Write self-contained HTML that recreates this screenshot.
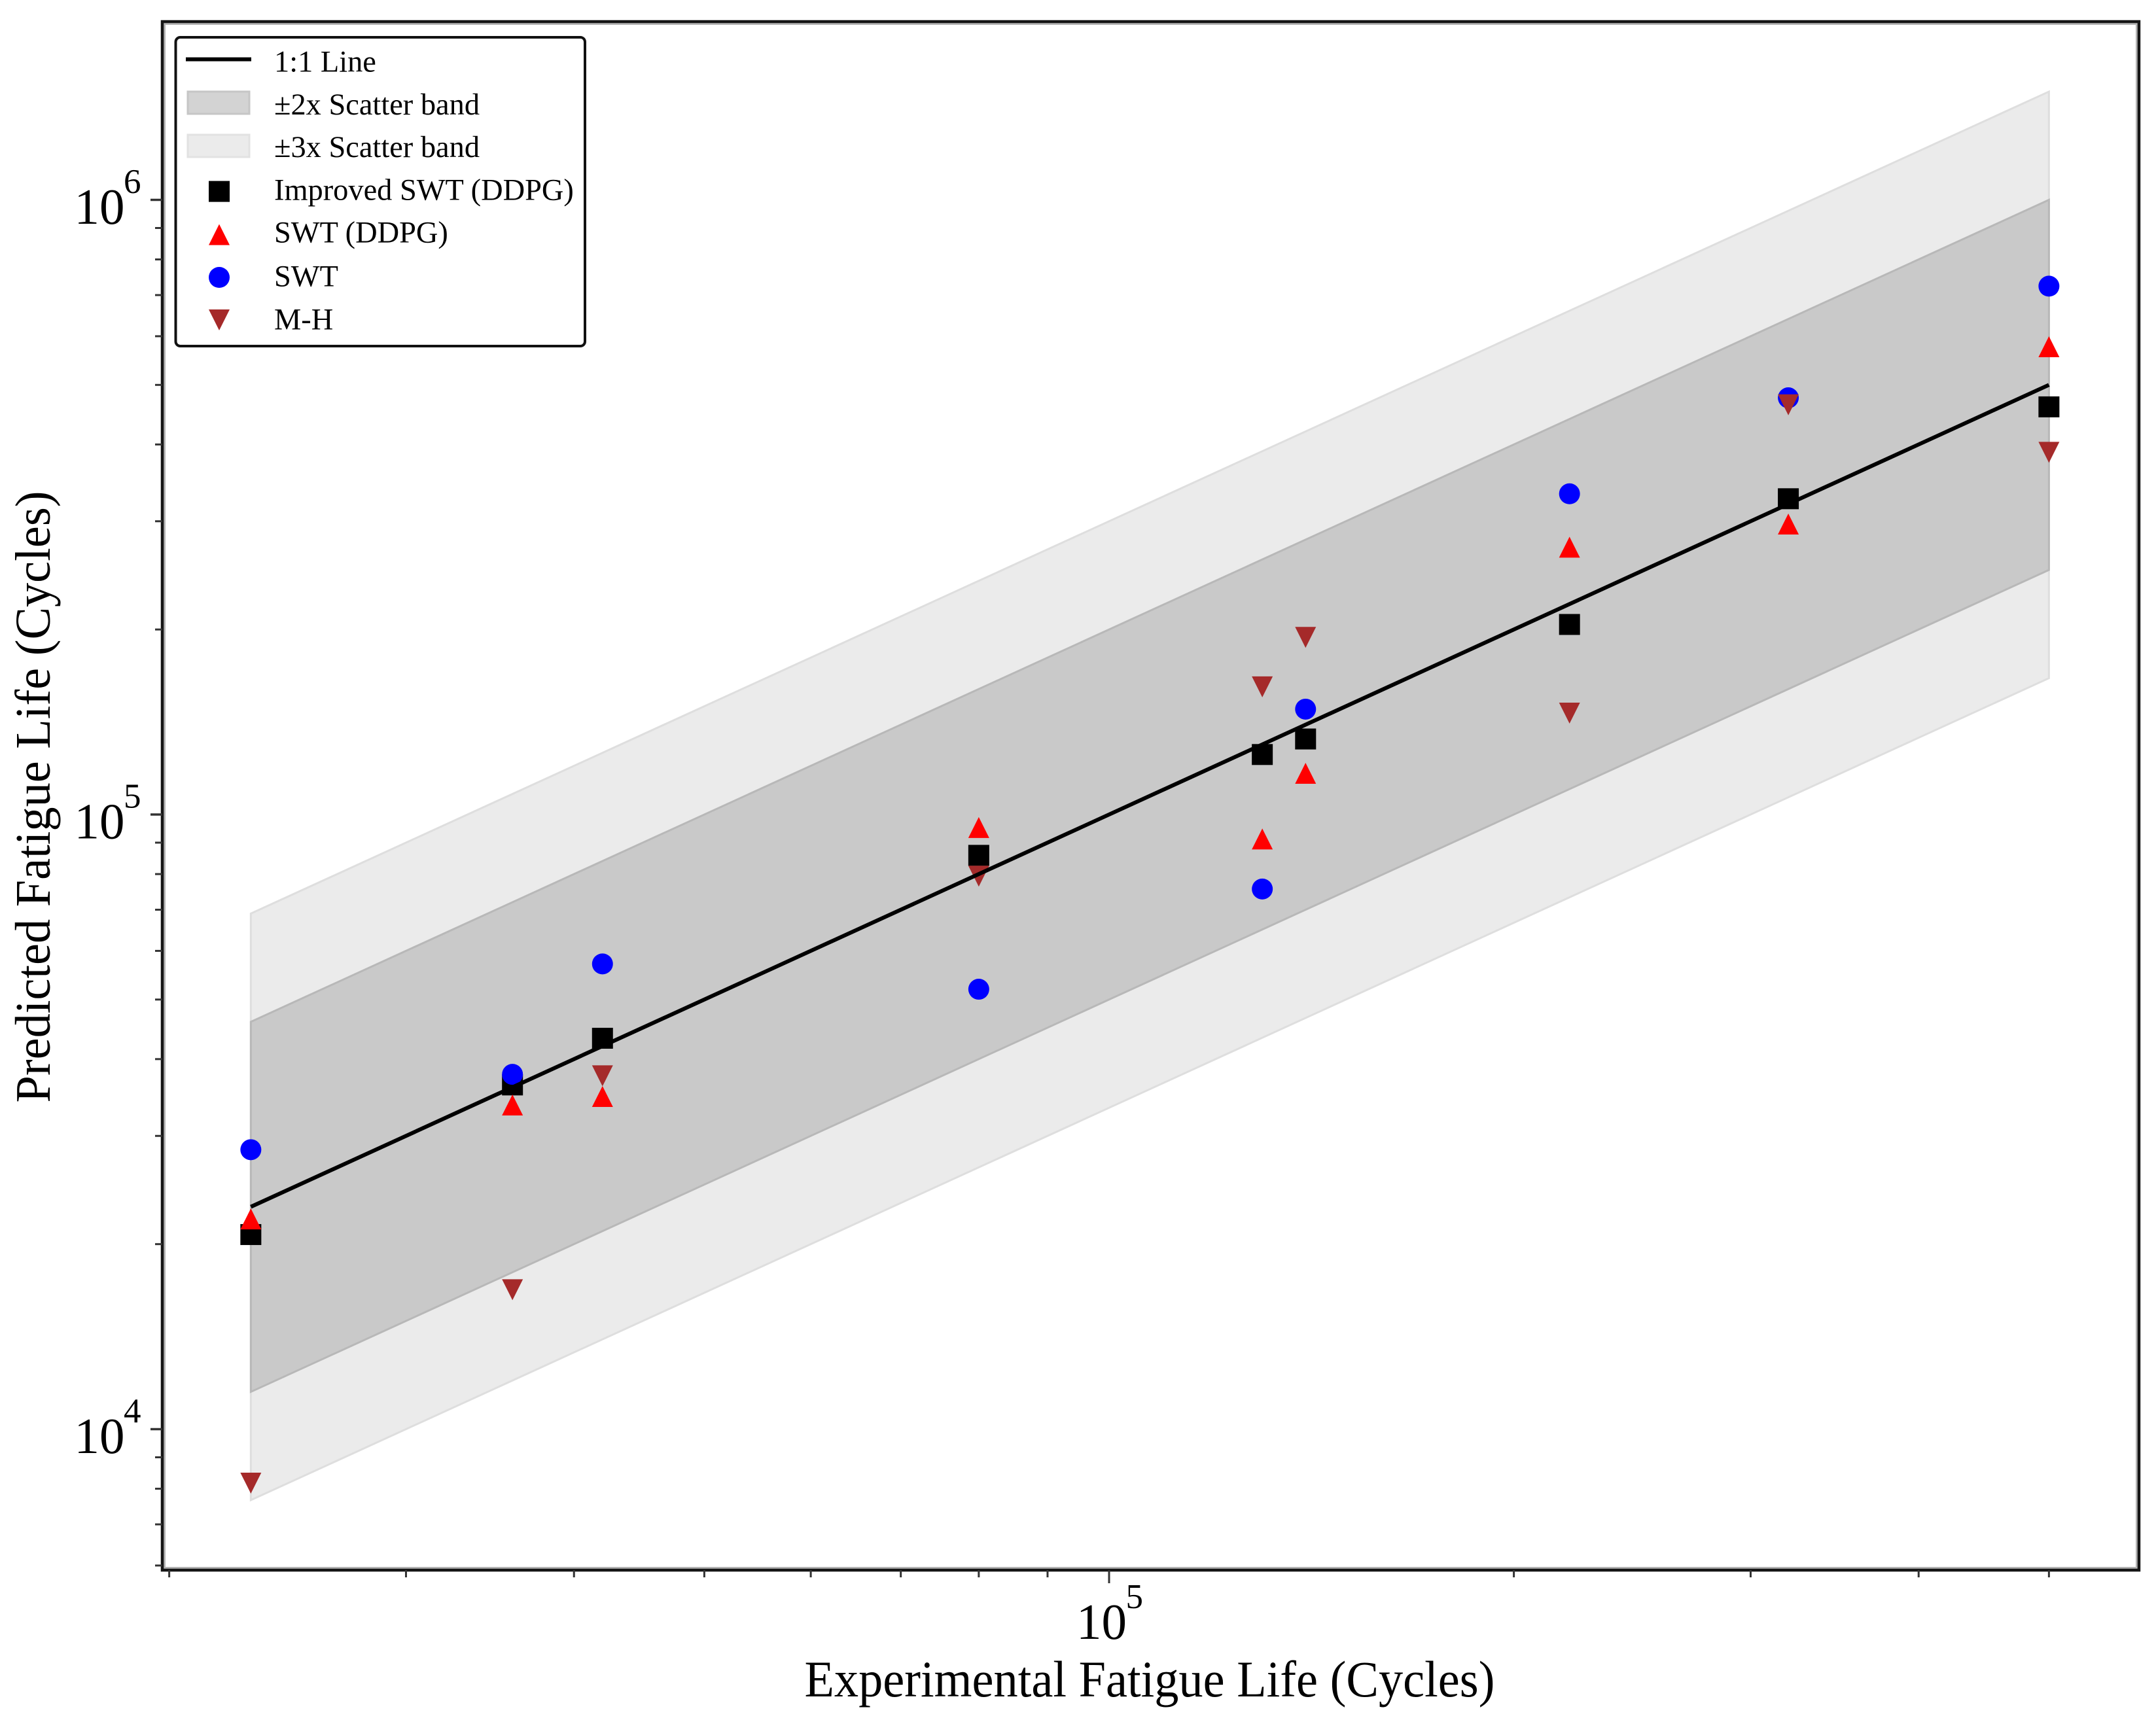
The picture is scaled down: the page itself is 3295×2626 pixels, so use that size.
<!DOCTYPE html>
<html lang="en">
<head>
<meta charset="utf-8">
<title>Predicted vs Experimental Fatigue Life</title>
<style>
html,body{margin:0;padding:0;background:#fff;}
body{width:3295px;height:2626px;overflow:hidden;}
svg{display:block;}
text{font-family:"Liberation Serif","Times New Roman",serif;fill:#000;}
</style>
</head>
<body>
<svg id="chart" xmlns="http://www.w3.org/2000/svg" width="3295" height="2626" viewBox="0 0 3295 2626"></svg>
<script>
const experimentalLife = [23000, 36000, 42000, 80000, 130000, 140000, 220000, 320000, 500000];
const improvedSwtDdpg = [20730, 36310, 43250, 85820, 125200, 132700, 203800, 326400, 460500];
const swtDdpg = [21980, 33680, 34770, 95240, 91240, 116700, 272200, 296900, 576800];
const swt = [28490, 37780, 57140, 51970, 75650, 148400, 332500, 476400, 723800];
const mansonHaigh = [8170, 16860, 37570, 79370, 161300, 194200, 146200, 464000, 388400];
const bandFactors = [3, 2];
const xMajorTicks = [100000];
const xMinorTicks = [20000, 30000, 40000, 50000, 60000, 70000, 80000, 90000, 200000, 300000, 400000, 500000];
const yMajorTicks = [10000, 100000, 1000000];
const yMinorTicks = [6000, 7000, 8000, 9000, 20000, 30000, 40000, 50000, 60000, 70000, 80000, 90000, 200000, 300000, 400000, 500000, 600000, 700000, 800000, 900000];

const svg = document.getElementById('chart');
const NS = 'http://www.w3.org/2000/svg';
const plot = {left: 248, right: 3269, top: 33, bottom: 2400};
const markerSize = 32;

function xScale(v) { return 1695 + 2055 * (Math.log10(v) - 5); }
function yScale(v) { return 1245 - 939.5 * (Math.log10(v) - 5); }

function mk(tag, attrs, parent) {
  const el = document.createElementNS(NS, tag);
  for (const k in attrs) el.setAttribute(k, attrs[k]);
  (parent || svg).appendChild(el);
  return el;
}

function drawMarker(kind, cx, cy, color, parent) {
  const h = markerSize / 2;
  if (kind === 'square') return mk('rect', {x: cx - h, y: cy - h, width: markerSize, height: markerSize, fill: color}, parent);
  if (kind === 'circle') return mk('circle', {cx: cx, cy: cy, r: h, fill: color}, parent);
  if (kind === 'up') return mk('polygon', {points: `${cx},${cy - h} ${cx + h},${cy + h} ${cx - h},${cy + h}`, fill: color}, parent);
  return mk('polygon', {points: `${cx - h},${cy - h} ${cx + h},${cy - h} ${cx},${cy + h}`, fill: color}, parent);
}

/* scatter bands */
const xFirst = experimentalLife[0];
const xLast = experimentalLife[experimentalLife.length - 1];
const bandStyles = {3: {fill: '#ebebeb', stroke: '#dedede'}, 2: {fill: '#c9c9c9', stroke: '#b8b8b8'}};
bandFactors.forEach(function (f) {
  const pts = [
    [xScale(xFirst), yScale(xFirst * f)],
    [xScale(xLast), yScale(xLast * f)],
    [xScale(xLast), yScale(xLast / f)],
    [xScale(xFirst), yScale(xFirst / f)]
  ].map(function (p) { return p.join(','); }).join(' ');
  const band = mk('polygon', {points: pts, fill: bandStyles[f].fill, stroke: bandStyles[f].stroke, 'stroke-width': 3});
  
  
});

/* series markers */
const seriesList = [
  {name: 'improved-swt-ddpg', values: improvedSwtDdpg, kind: 'square', color: '#000000'},
  {name: 'swt-ddpg', values: swtDdpg, kind: 'up', color: '#ff0000'},
  {name: 'swt', values: swt, kind: 'circle', color: '#0000ff'},
  {name: 'm-h', values: mansonHaigh, kind: 'down', color: '#a52a2a'}
];
seriesList.forEach(function (s) {
  const g = mk('g', {});
  
  
  s.values.forEach(function (v, i) {
    const m = drawMarker(s.kind, xScale(experimentalLife[i]), yScale(v), s.color, g);
    
    
  });
});

/* 1:1 line */
const oneToOne = mk('line', {x1: xScale(xFirst), y1: yScale(xFirst), x2: xScale(xLast), y2: yScale(xLast), stroke: '#000', 'stroke-width': 6});



/* axes frame: soft grey inner edge plus dark spine */
const frameInner = mk('rect', {x: plot.left + 3.5, y: plot.top + 3.5, width: plot.right - plot.left - 7, height: plot.bottom - plot.top - 7, fill: 'none', stroke: '#b4b4b4', 'stroke-width': 3});


const frame = mk('rect', {x: plot.left, y: plot.top, width: plot.right - plot.left, height: plot.bottom - plot.top, fill: 'none', stroke: '#151515', 'stroke-width': 4.5});



/* ticks */
function tickX(v, len, w) {
  const x = xScale(v);
  const t = mk('line', {x1: x, x2: x, y1: plot.bottom, y2: plot.bottom + len, stroke: '#333', 'stroke-width': w});
  
  
}
function tickY(v, len, w) {
  const y = yScale(v);
  const t = mk('line', {x1: plot.left, x2: plot.left - len, y1: y, y2: y, stroke: '#333', 'stroke-width': w});
  
  
}
xMinorTicks.forEach(function (v) { tickX(v, 11, 3); });
xMajorTicks.forEach(function (v) { tickX(v, 20, 3); });
yMinorTicks.forEach(function (v) { tickY(v, 11, 3); });
yMajorTicks.forEach(function (v) { tickY(v, 18, 3.5); });

/* tick labels */
function powerLabel(v, x, y) {
  const g = mk('g', {});
  
  
  const base = mk('text', {x: x, y: y, 'font-size': 77}, g);
  base.textContent = '10';
  const sup = mk('text', {x: x + 75.5, y: y - 47, 'font-size': 53}, g);
  sup.textContent = String(Math.round(Math.log10(v)));
}
xMajorTicks.forEach(function (v) { powerLabel(v, xScale(v) - 50, 2505); });
yMajorTicks.forEach(function (v) { powerLabel(v, 113.5, yScale(v) + 36.5); });

/* axis titles */
const xTitle = mk('text', {x: 1757, y: 2593, 'font-size': 78, 'text-anchor': 'middle', textLength: 1055, lengthAdjust: 'spacingAndGlyphs'});
xTitle.textContent = 'Experimental Fatigue Life (Cycles)';



const yTitle = mk('text', {transform: 'translate(76 1218) rotate(-90)', 'font-size': 76, 'text-anchor': 'middle', textLength: 935, lengthAdjust: 'spacingAndGlyphs'});
yTitle.textContent = 'Predicted Fatigue Life (Cycles)';



/* legend */
const legend = mk('g', {});


const legendBox = mk('rect', {x: 268.5, y: 57, width: 625.5, height: 472, rx: 7, ry: 7, fill: '#fff', stroke: '#111', 'stroke-width': 4}, legend);



const legendLabels = ['1:1 Line', '\u00B12x Scatter band', '\u00B13x Scatter band', 'Improved SWT (DDPG)', 'SWT (DDPG)', 'SWT', 'M-H'];
const legendBaselines = [109.5, 175, 240, 305.5, 370.5, 437.5, 503.5];
legendLabels.forEach(function (label, i) {
  const t = mk('text', {x: 419, y: legendBaselines[i], 'font-size': 46.4}, legend);
  t.textContent = label;
  
  
});

const legendLine = mk('line', {x1: 284, x2: 384, y1: 90.6, y2: 90.6, stroke: '#000', 'stroke-width': 6}, legend);


const legendBand2 = mk('rect', {x: 287, y: 140, width: 94, height: 34, fill: '#d3d3d3', stroke: '#c6c6c6', 'stroke-width': 3}, legend);


const legendBand3 = mk('rect', {x: 287, y: 206, width: 94, height: 34, fill: '#ebebeb', stroke: '#e2e2e2', 'stroke-width': 3}, legend);



const legendMarkerY = [292.6, 358.6, 424, 489];
seriesList.forEach(function (s, i) {
  const m = drawMarker(s.kind, 335, legendMarkerY[i], s.color, legend);
  
  
});
</script>
</body>
</html>
